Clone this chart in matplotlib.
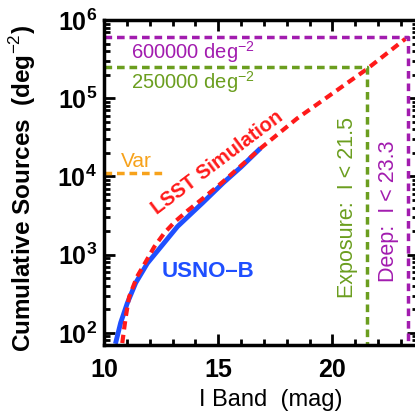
import numpy as np
import matplotlib
matplotlib.use("Agg")
import matplotlib.pyplot as plt
from matplotlib.ticker import MultipleLocator, LogLocator, NullFormatter

plt.rcParams["font.family"] = ["Liberation Sans", "DejaVu Sans"]
plt.rcParams["mathtext.fontset"] = "custom"
plt.rcParams["mathtext.rm"] = "Liberation Sans"
plt.rcParams["mathtext.bf"] = "Liberation Sans:bold"

# LSST simulation (I mag, log10 cumulative sources per deg^2)
lsst_mag = [10.8, 10.95, 11.1, 11.45, 11.85, 12.2, 12.65, 13.1, 13.65, 14.25, 15.2, 16.9, 18.45, 21.5, 23.2]
lsst_logn = [1.87, 2.2, 2.46, 2.72, 2.92, 3.1, 3.28, 3.42, 3.56, 3.70, 3.93, 4.37, 4.74, 5.37, 5.76]

# USNO-B counts
usno_mag = [10.5, 10.73, 11.02, 11.39, 11.9, 12.49, 13.22, 13.8, 14.31, 15.23, 16.0, 16.85]
usno_logn = [1.86, 2.13, 2.38, 2.64, 2.89, 3.1, 3.36, 3.52, 3.66, 3.92, 4.12, 4.36]

deep_lim, deep_n = 23.3, 6.0e5
exp_lim, exp_n = 21.5, 2.5e5
var_lim, var_n = 12.6, 1.1e4

purple = "#a21caf"
green = "#6b9e1f"
orange = "#f7a21b"
red = "#ff1a1a"
blue = "#1f4fff"

fig = plt.figure(figsize=(4.15, 4.15), dpi=100)
ax = fig.add_axes([104 / 415, 70 / 415, 314 / 415, 325 / 415])
ax.set_yscale("log")
ax.set_xlim(10, 23.75)
ax.set_ylim(70, 1e6)

ax.plot(usno_mag, 10 ** np.array(usno_logn), color=blue, lw=3.5, solid_capstyle="butt",
        solid_joinstyle="round")
ax.plot(lsst_mag, 10 ** np.array(lsst_logn), color=red, lw=3, ls=(0, (2, 1.3)))

dash = (0, (2.2, 1.4))
ax.plot([10, deep_lim, deep_lim], [deep_n, deep_n, 1], color=purple, lw=2.5, ls=dash)
ax.plot([10, exp_lim, exp_lim], [exp_n, exp_n, 1], color=green, lw=2.5, ls=dash)
ax.plot([10, var_lim], [var_n, var_n], color=orange, lw=2.5, ls=dash)

ax.text(11.2, 10 ** 5.59, "600000 deg$^{-2}$", color=purple, fontsize=14.5, va="center")
ax.text(11.2, 10 ** 5.21, "250000 deg$^{-2}$", color=green, fontsize=14.5, va="center")
ax.text(11.4, 10 ** 4.19, "Var", color=orange, fontsize=15, va="center", ha="center")
ax.text(14.95, 10 ** 4.17, "LSST Simulation", color=red, fontsize=14.5, fontweight="bold",
        rotation=37, ha="center", va="center")
ax.text(14.55, 10 ** 2.78, "USNO\u2013B", color=blue, fontsize=16, fontweight="bold",
        ha="center", va="center")
ax.text(20.66, 10 ** 3.6, "Exposure:  I < 21.5", color=green, fontsize=15.5,
        rotation=90, ha="center", va="center")
ax.text(22.46, 10 ** 3.55, "Deep:  I < 23.3", color=purple, fontsize=15.5,
        rotation=90, ha="center", va="center")

ax.xaxis.set_major_locator(MultipleLocator(5))
ax.xaxis.set_minor_locator(MultipleLocator(1))
ax.set_yticks([1e2, 1e3, 1e4, 1e5, 1e6])
ax.set_yticklabels([r"$\mathbf{10^{%d}}$" % k for k in range(2, 7)])
ax.yaxis.set_minor_locator(LogLocator(base=10, subs=np.arange(2, 10)))
ax.yaxis.set_minor_formatter(NullFormatter())
for lab in ax.get_xticklabels():
    lab.set_fontweight("bold")

ax.tick_params(which="both", direction="in", top=True, right=True, width=2, labelsize=18)
ax.tick_params(axis="x", pad=9)
ax.tick_params(axis="y", pad=5)
ax.tick_params(which="major", length=8)
ax.tick_params(which="minor", length=4)
for sp in ax.spines.values():
    sp.set_linewidth(2.5)

ax.set_xlabel("I Band  (mag)", fontsize=17)
ax.xaxis.set_label_coords(0.53, -0.135)
ax.set_ylabel("Cumulative Sources  (deg$^{-2}$)", fontsize=17.5, fontweight="bold")
ax.yaxis.set_label_coords(-0.21, 0.48)

fig.savefig("out.png", dpi=100)
